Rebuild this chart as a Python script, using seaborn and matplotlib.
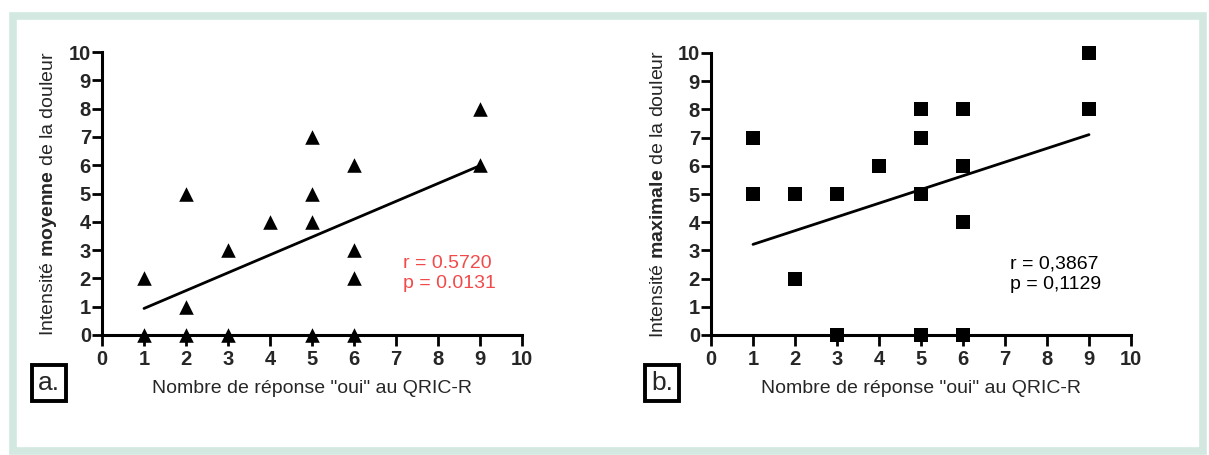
import numpy as np
import pandas as pd
import matplotlib
matplotlib.use("Agg")
import matplotlib.pyplot as plt
from matplotlib.patches import Rectangle
import seaborn as sns

# panel a: intensite moyenne
oui_a = [1, 1, 2, 2, 2, 3, 3, 4, 5, 5, 5, 5, 6, 6, 6, 6, 9, 9]
moyenne_a = [0, 2, 0, 1, 5, 0, 3, 4, 0, 4, 5, 7, 0, 2, 3, 6, 6, 8]

# panel b: intensite maximale
oui_b = [1, 1, 2, 2, 2, 3, 3, 4, 5, 5, 5, 5, 6, 6, 6, 6, 9, 9]
maximale_b = [5, 7, 2, 2, 5, 0, 5, 6, 0, 5, 7, 8, 0, 4, 6, 8, 8, 10]

ticks = list(range(0, 11))
xlabel = 'Nombre de réponse "oui" au QRIC-R'
stats_a = ["r = 0.5720", "p = 0.0131"]
stats_b = ["r = 0,3867", "p = 0,1129"]

sns.set_style("ticks")
plt.rcParams["font.family"] = ["Liberation Sans", "DejaVu Sans"]
plt.rcParams["mathtext.fontset"] = "custom"
plt.rcParams["mathtext.rm"] = "Liberation Sans"
plt.rcParams["mathtext.bf"] = "Liberation Sans:bold"

df_a = pd.DataFrame({"oui": oui_a, "douleur": moyenne_a})
df_b = pd.DataFrame({"oui": oui_b, "douleur": maximale_b})

fig = plt.figure(figsize=(12.09, 4.55), dpi=100)

# mint frame round the whole figure
fig.patches.append(Rectangle((13 / 1209, 4 / 455), 1190 / 1209, 435 / 455,
                             transform=fig.transFigure, fill=False,
                             edgecolor="#d3e8e1", linewidth=5.5))

ax_a = fig.add_axes([102 / 1209, 1 - 335 / 455, 420 / 1209, 283 / 455])
ax_b = fig.add_axes([711 / 1209, 1 - 335 / 455, 420 / 1209, 282 / 455])


def draw_panel(ax, df, marker, word, stats, color, letter, box_x, stat_x, ylab_x):
    sns.regplot(data=df, x="oui", y="douleur", ax=ax, ci=None, truncate=True,
                marker=marker,
                scatter_kws={"s": 110, "color": "black", "alpha": 1,
                             "clip_on": False, "zorder": 5, "linewidths": 0},
                line_kws={"color": "black", "linewidth": 2})
    ax.set_xlim(0, 10)
    ax.set_ylim(0, 10)
    ax.set_xticks(ticks)
    ax.set_yticks(ticks)
    ax.set_xticklabels(ticks, fontweight="bold", fontsize=14.5)
    ax.set_yticklabels(ticks, fontweight="bold", fontsize=14.5)
    ax.tick_params(axis="both", direction="out", length=8, width=2, pad=3,
                   color="black")
    ax.tick_params(axis="y", length=7, pad=1)
    for s in ["top", "right"]:
        ax.spines[s].set_visible(False)
    for s in ["left", "bottom"]:
        ax.spines[s].set_linewidth(2.2)
        ax.spines[s].set_color("black")
    ax.set_xlabel(xlabel, fontsize=14, labelpad=8)
    ax.set_ylabel("")
    ax.text(ylab_x, 0.5, "Intensité $\\mathbf{" + word + "}$ de la douleur",
            transform=ax.transAxes, rotation=90, ha="center", va="center",
            fontsize=14)
    ax.text(stat_x, 2.16, stats[0] + "\n" + stats[1], color=color, fontsize=14,
            ha="left", va="center", linespacing=1.25)
    fig.text(box_x / 1209, 1 - 383 / 455, letter, fontsize=19, ha="center",
             va="center",
             bbox=dict(boxstyle="square,pad=0.22", facecolor="white",
                       edgecolor="black", linewidth=2.8))


draw_panel(ax_a, df_a, "^", "moyenne", stats_a, "#f24a4a", "a.", 49, 7.17, -0.128)
draw_panel(ax_b, df_b, "s", "maximale", stats_b, "black", "b.", 662, 7.12, -0.126)

fig.savefig("out.png", dpi=100, facecolor="white")
